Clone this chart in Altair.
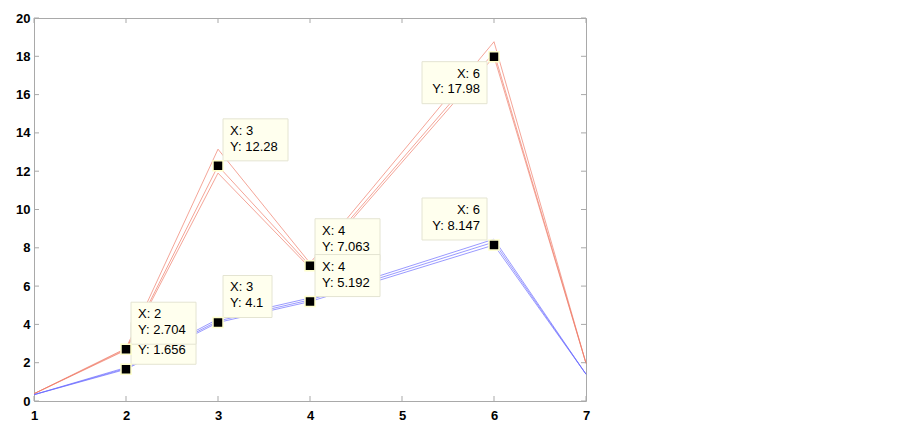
import altair as alt
import pandas as pd

# ---- data ----
x_vals = [1, 2, 3, 4, 6, 7]
red_hi = [0.38, 2.75, 13.15, 7.20, 18.76, 1.97]
red_mid = [0.38, 2.704, 12.28, 7.063, 18.20, 1.97]
red_lo = [0.38, 2.66, 11.90, 6.95, 17.98, 1.97]
blue_hi = [0.33, 1.75, 4.28, 5.38, 8.45, 1.40]
blue_mid = [0.33, 1.70, 4.18, 5.28, 8.30, 1.40]
blue_lo = [0.33, 1.656, 4.10, 5.192, 8.147, 1.40]

x_ticks = [1, 2, 3, 4, 5, 6, 7]
y_ticks = [0, 2, 4, 6, 8, 10, 12, 14, 16, 18, 20]

# data tips (drawn in this order)
tip_x = [2, 2, 3, 4, 4, 3, 6, 6]
tip_y = [1.656, 2.704, 4.1, 7.063, 5.192, 12.28, 17.98, 8.147]
tip_side = ["ru", "ru", "ru", "ru", "ru", "ru", "ld", "lu"]

W, H = 552, 383
GREY = "#a9a9a9"

rows = []
for name, grp, vals in [("r1", "red", red_hi), ("r2", "red", red_mid), ("r3", "red", red_lo),
                        ("b1", "blue", blue_hi), ("b2", "blue", blue_mid), ("b3", "blue", blue_lo)]:
    for xv, yv in zip(x_vals, vals):
        rows.append({"series": name, "group": grp, "x": xv, "y": yv})
lines_df = pd.DataFrame(rows)

xs = alt.Scale(domain=[1, 7], nice=False, zero=False)
ys = alt.Scale(domain=[0, 20], nice=False, zero=False)
x_axis = alt.Axis(values=x_ticks, format="d", labelPadding=8, labelFlush=False,
                  ticks=False, domain=False, grid=False, title=None)
y_axis = alt.Axis(values=y_ticks, format="d", labelPadding=4, labelFlush=False,
                  ticks=False, domain=False, grid=False, title=None)


def X(f):
    return alt.X(f, scale=xs, axis=x_axis, title=None)


def Y(f):
    return alt.Y(f, scale=ys, axis=y_axis, title=None)


lines = alt.Chart(lines_df).mark_line(strokeWidth=0.8, opacity=0.85).encode(
    x=X("x:Q"),
    y=Y("y:Q"),
    color=alt.Color("group:N", scale=alt.Scale(domain=["red", "blue"], range=["#ef7a66", "#6a6aff"]), legend=None),
    detail="series:N",
)

xt_df = pd.DataFrame({"x": x_ticks})
yt_df = pd.DataFrame({"y": y_ticks})
tick_layers = [
    alt.Chart(xt_df).mark_rule(color=GREY).encode(x=X("x:Q"), y=alt.value(H), y2=alt.value(H - 5)),
    alt.Chart(xt_df).mark_rule(color=GREY).encode(x=X("x:Q"), y=alt.value(0), y2=alt.value(5)),
    alt.Chart(yt_df).mark_rule(color=GREY).encode(y=Y("y:Q"), x=alt.value(0), x2=alt.value(5)),
    alt.Chart(yt_df).mark_rule(color=GREY).encode(y=Y("y:Q"), x=alt.value(W - 5), x2=alt.value(W)),
]

tip_layers = []
for tx, ty, side in zip(tip_x, tip_y, tip_side):
    d = pd.DataFrame({"x": [tx], "y": [ty], "l1": [f"X: {tx}"], "l2": [f"Y: {ty:g}"]})
    base = alt.Chart(d)
    enc = dict(x=X("x:Q"), y=Y("y:Q"))
    bw = 49 if len(f"{ty:g}") <= 3 else 65
    if side == "ru":
        bx = dict(xOffset=5, x2Offset=5 + bw, yOffset=-47, y2Offset=-5)
        t_x, align, t1, t2 = 12, "left", -35, -19
    elif side == "lu":
        bx = dict(xOffset=-7 - bw, x2Offset=-7, yOffset=-47, y2Offset=-5)
        t_x, align, t1, t2 = -14, "right", -35, -19
    else:
        bx = dict(xOffset=-7 - bw, x2Offset=-7, yOffset=5, y2Offset=47)
        t_x, align, t1, t2 = -14, "right", 17, 32
    rect = base.mark_rect(fill="#ffffee", stroke="#e4e4d2", strokeWidth=1, **bx).encode(
        x2=alt.X2("x"), y2=alt.Y2("y"), **enc)
    txt1 = base.mark_text(font="Liberation Sans", fontSize=13, color="black", align=align,
                          baseline="middle", dx=t_x, dy=t1).encode(text="l1:N", **enc)
    txt2 = base.mark_text(font="Liberation Sans", fontSize=13, color="black", align=align,
                          baseline="middle", dx=t_x, dy=t2).encode(text="l2:N", **enc)
    mk = base.mark_square(size=100, color="black", filled=True, opacity=1,
                          stroke="#ffffcc", strokeWidth=1.5).encode(**enc)
    tip_layers += [rect, txt1, txt2, mk]

chart = alt.layer(lines, *tick_layers, *tip_layers).properties(
    width=W, height=H,
    autosize=alt.AutoSizeParams(type="none"),
    padding={"left": 26, "top": 10, "right": 20, "bottom": 30},
    background="white",
).configure_view(stroke=GREY, strokeWidth=1).configure_axis(
    labelFont="Liberation Sans", labelFontSize=13, labelFontWeight="bold", labelColor="black",
)

chart.save("out.html", embed_options={"renderer": "svg", "actions": False})
